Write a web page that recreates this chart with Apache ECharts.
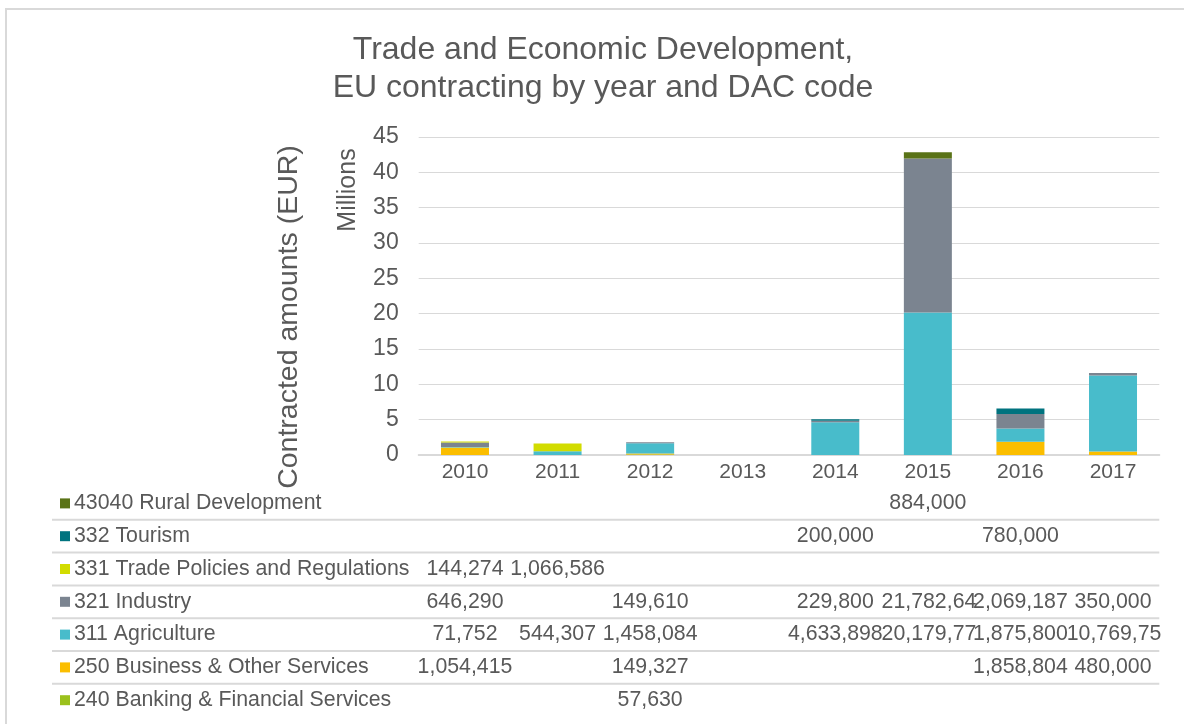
<!DOCTYPE html>
<html>
<head>
<meta charset="utf-8">
<script src="https://cdn.jsdelivr.net/npm/echarts@6/dist/echarts.min.js"></script>
<style>
html,body{margin:0;padding:0;background:#fff;}
#chart{width:1184px;height:724px;}
</style>
</head>
<body>
<div id="chart"></div>
<script>
// ---- data ----
const years = ['2010','2011','2012','2013','2014','2015','2016','2017'];
const seriesNames = [
  '240 Banking & Financial Services',
  '250 Business & Other Services',
  '311 Agriculture',
  '321 Industry',
  '331 Trade Policies and Regulations',
  '332 Tourism',
  '43040 Rural Development'
];
const banking     = [null, null, 57630, null, null, null, null, null];
const business    = [1054415, null, 149327, null, null, null, 1858804, 480000];
const agriculture = [71752, 544307, 1458084, null, 4633898, 20179770, 1875800, 10769750];
const industry    = [646290, null, 149610, null, 229800, 21782640, 2069187, 350000];
const tradePolicy = [144274, 1066586, null, null, null, null, null, null];
const tourism     = [null, null, null, null, 200000, null, 780000, null];
const rural       = [null, null, null, null, null, 884000, null, null];
const yTicks = [0,5,10,15,20,25,30,35,40,45];

const seriesValues = [banking, business, agriculture, industry, tradePolicy, tourism, rural];
const colors = ['#9BC11C','#FBBE00','#48BCCB','#7B8490','#D2DC00','#00737F','#5A7317'];

const TXT = '#595959';
const FONT = '"Liberation Sans", Arial, sans-serif';

const chart = echarts.init(document.getElementById('chart'), null, {renderer:'canvas'});

const series = seriesNames.map((n,i)=>({
  name:n, type:'bar', stack:'total', barWidth:48,
  itemStyle:{color:colors[i]},
  data: seriesValues[i].map(v => v == null ? null : v/1e6),
  emphasis:{disabled:true}
}));

chart.setOption({
  animation:false,
  textStyle:{fontFamily:FONT, color:TXT},
  title:{
    text:'Trade and Economic Development,\nEU contracting by year and DAC code',
    left:598, textAlign:'center', top:26,
    textStyle:{fontSize:32, fontWeight:'normal', color:TXT, fontFamily:FONT, lineHeight:38}
  },
  grid:{left:418.7, right:24.7, top:137, bottom:269, containLabel:false},
  xAxis:{
    type:'category', data:years,
    axisLine:{lineStyle:{color:'#d9d9d9', width:2}},
    axisTick:{show:false},
    axisLabel:{color:TXT, fontSize:21, fontFamily:FONT, margin:7}
  },
  yAxis:{
    type:'value', min:0, max:45, interval:5,
    axisLine:{show:false}, axisTick:{show:false},
    splitLine:{lineStyle:{color:'#d9d9d9', width:1}},
    axisLabel:{color:TXT, fontSize:23, fontFamily:FONT, margin:20,
      formatter: v => yTicks.includes(v) ? String(v) : ''}
  },
  series: series
});

// ---- data table drawn below the axis, columns aligned on category positions ----
const graphics = [];
graphics.push({type:'rect', shape:{x:6, y:9, width:1200, height:740},
  style:{fill:null, stroke:'#d9d9d9', lineWidth:2}, silent:true, z:-10});
graphics.push({type:'text', x:289, y:317, rotation:Math.PI/2,
  style:{text:'Contracted amounts (EUR)', fill:TXT, font:'28.5px '+FONT, textAlign:'center', textVerticalAlign:'middle'}});
graphics.push({type:'text', x:348, y:190, rotation:Math.PI/2,
  style:{text:'Millions', fill:TXT, font:'25px '+FONT, textAlign:'center', textVerticalAlign:'middle'}});

const xs = years.map((y,i)=>chart.convertToPixel({xAxisIndex:0}, i));
const cellW = xs[1]-xs[0];
const TFONT = '21.3px ' + FONT;
const ctx = document.createElement('canvas').getContext('2d');
ctx.font = TFONT;
// clip cell text to the cell width like the spreadsheet table does
const clip = s => { while (s.length > 1 && ctx.measureText(s).width > cellW + 4) s = s.slice(0,-1); return s; };
const rowTop = 487, rowH = 32.8;
const tableRows = seriesNames.slice().reverse();
const tableVals = seriesValues.slice().reverse();
const tableColors = colors.slice().reverse();
const fmt = v => v.toLocaleString('en-US');
tableRows.forEach((name, r) => {
  const cy = rowTop + rowH*r + rowH/2;
  graphics.push({type:'rect', shape:{x:60, y:cy-5, width:10, height:10}, style:{fill:tableColors[r]}});
  graphics.push({type:'text', x:74, y:cy, style:{text:name, fill:TXT, font:TFONT, textVerticalAlign:'middle'}});
  tableVals[r].forEach((v,i)=>{
    if (v == null) return;
    const full = fmt(v), t = clip(full);
    const left = xs[i] - ctx.measureText(full).width/2;
    graphics.push({type:'text', x: t === full ? xs[i] : Math.max(left, xs[i]-cellW/2), y:cy,
      style:{text:t, fill:TXT, font:TFONT, textAlign: t === full ? 'center' : 'left', textVerticalAlign:'middle'}});
  });
  if (r < tableRows.length-1) {
    graphics.push({type:'line', shape:{x1:52, y1:rowTop+rowH*(r+1), x2:xs[7]+cellW/2, y2:rowTop+rowH*(r+1)},
      style:{stroke:'#d9d9d9', lineWidth:2}});
  }
});
chart.setOption({graphic: graphics});
</script>
</body>
</html>
